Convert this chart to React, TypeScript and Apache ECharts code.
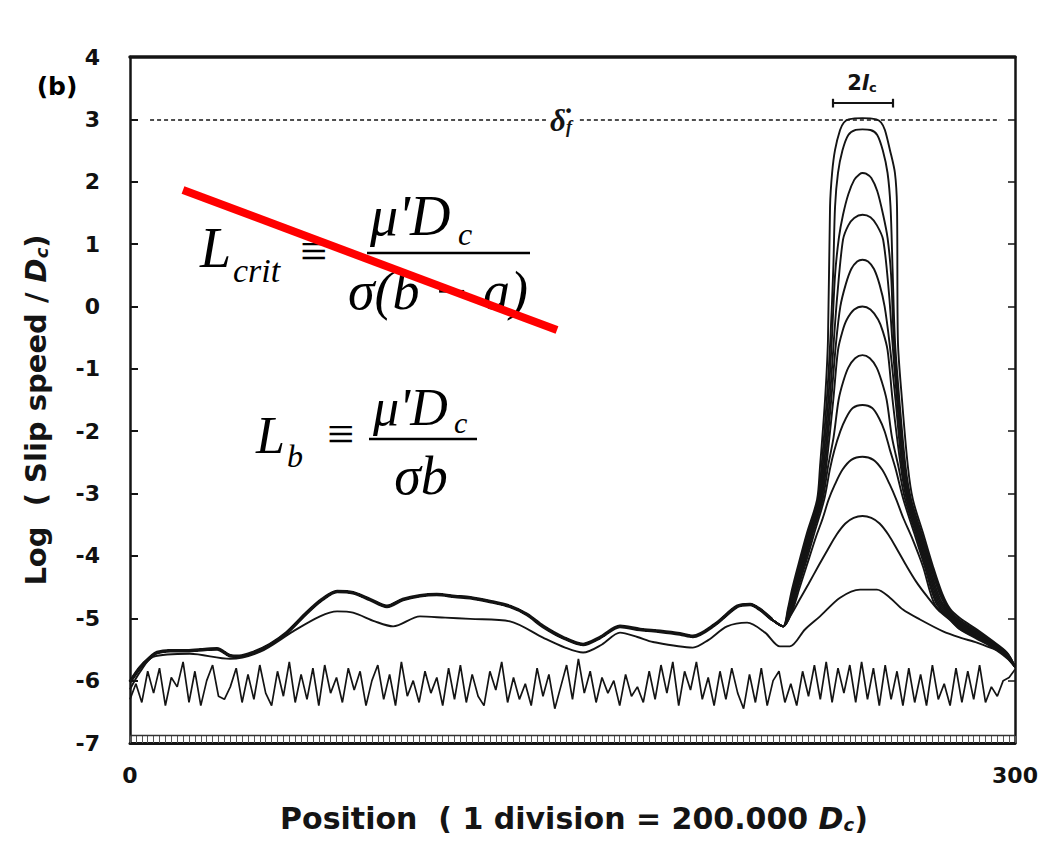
import React, { useEffect, useRef } from 'react';
import * as echarts from 'echarts';

// ---- axes ----
const positionRange = [0, 300];
const logSpeedRange = [-7, 4];
const xTickLabels = [0, 300];

// ---- common early history of the band of curves (position, log slip speed) ----
const bandLeft: number[][] = [
  [0, -6.02], [3.4, -5.79], [6.8, -5.63], [9.2, -5.55], [13.6, -5.52], [19.3, -5.52], [25.4, -5.5],
  [29.5, -5.49], [33.9, -5.6], [37, -5.61], [41.7, -5.55], [47.5, -5.42], [53.2, -5.23], [60, -4.91],
  [65.1, -4.7], [70.2, -4.57], [75.6, -4.59], [81.4, -4.7], [87.1, -4.81], [92.5, -4.7], [98.3, -4.64],
  [104, -4.62], [110.2, -4.65], [115.3, -4.67], [122, -4.73], [128.8, -4.81], [134.6, -4.94], [140, -5.13],
  [146.8, -5.31], [153.6, -5.42], [159.3, -5.31], [166.1, -5.13], [172.9, -5.18], [179.7, -5.21],
  [186.4, -5.25], [190.8, -5.29], [198.3, -5.1], [205.8, -4.81], [210.2, -4.78], [213.6, -4.86], [217.6, -5.02],
];

// ---- peak parts of the successive snapshots ----
const curveA: number[][] = [
  [221.4, -5.13], [223, -4.85], [224.4, -4.54], [226.4, -4.17], [229.5, -3.63], [232.9, -3.1], [233.9, -2.57],
  [235.6, -1.5], [236.6, -0.54], [237.3, 1.6], [238, 2.14], [239, 2.51], [240.7, 2.83], [242, 2.95], [243.6, 3.0],
  [248.3, 3.02], [253, 3.0], [254.6, 2.95], [255.9, 2.83], [257.6, 2.51], [259.3, 2.14], [260, 1.6],
  [260.3, -0.54], [261.7, -1.5], [263.7, -2.57], [265.4, -3.1], [268.8, -3.63], [272.2, -4.17], [275.3, -4.6],
  [278, -4.85], [281.4, -5.0], [287.1, -5.18], [292, -5.35], [297.3, -5.55], [300, -5.78],
];
const curveB: number[][] = [
  [221.4, -5.13], [223.2, -4.85], [224.8, -4.54], [226.8, -4.17], [229.9, -3.63], [233.2, -3.1], [234.4, -2.57],
  [236.2, -1.5], [237.4, -0.54], [238.4, 0.6], [239, 1.6], [240, 2.14], [241.5, 2.5], [243.5, 2.75], [246, 2.83],
  [248.3, 2.84], [251, 2.83], [253.3, 2.75], [255.2, 2.5], [256.8, 2.14], [257.8, 1.6], [258.5, 0.6],
  [259.3, -0.54], [260.8, -1.5], [262.9, -2.57], [264.8, -3.1], [268.3, -3.63], [271.8, -4.17], [275, -4.62],
  [278, -4.88], [281.4, -5.03], [287.1, -5.2], [292, -5.37], [297.3, -5.56], [300, -5.78],
];
const curveC: number[][] = [
  [221.4, -5.13], [223.4, -4.85], [225, -4.54], [227.1, -4.17], [230.2, -3.63], [233.5, -3.1], [234.8, -2.57],
  [236.7, -1.5], [237.9, -0.54], [239, 0.5], [240.3, 1.1], [241.7, 1.47], [243.5, 1.8], [245.5, 2.03],
  [247.3, 2.12], [248.3, 2.14], [249.5, 2.13], [251.3, 2.06], [253.3, 1.85], [255.3, 1.47], [256.8, 1.1],
  [258, 0.5], [258.9, -0.54], [260.4, -1.5], [262.5, -2.57], [264.4, -3.1], [267.9, -3.63], [271.4, -4.17],
  [274.8, -4.65], [278, -4.9], [281.4, -5.05], [287.1, -5.22], [292, -5.38], [297.3, -5.57], [300, -5.78],
];
const curveD: number[][] = [
  [221.4, -5.13], [223.6, -4.85], [225.2, -4.54], [227.4, -4.17], [230.5, -3.63], [233.8, -3.1], [235.2, -2.57],
  [237.2, -1.5], [238.6, -0.54], [239.8, 0.2], [241.7, 1.07], [243.5, 1.3], [245.5, 1.42], [248.3, 1.47],
  [251, 1.43], [253.2, 1.3], [255.3, 1.07], [257.3, 0.2], [258.4, -0.54], [260, -1.5], [262.1, -2.57],
  [264, -3.1], [267.5, -3.63], [271, -4.17], [274.5, -4.68], [278, -4.92], [281.4, -5.07], [287.1, -5.24],
  [292, -5.39], [297.3, -5.58], [300, -5.78],
];
const curveE: number[][] = [
  [221.4, -5.13], [223.8, -4.85], [225.5, -4.54], [227.7, -4.17], [230.8, -3.63], [234.1, -3.1], [235.6, -2.57],
  [237.7, -1.5], [239.3, -0.6], [240.8, 0.0], [242.6, 0.35], [244.5, 0.6], [246.5, 0.72], [248.3, 0.75],
  [250.2, 0.72], [252.2, 0.6], [254.1, 0.35], [255.8, 0.0], [257.5, -0.6], [259.5, -1.5], [261.7, -2.57],
  [263.7, -3.1], [267.1, -3.63], [270.6, -4.17], [274.2, -4.7], [278, -4.94], [281.4, -5.09], [287.1, -5.25],
  [292, -5.4], [297.3, -5.59], [300, -5.78],
];
const curveF: number[][] = [
  [221.4, -5.13], [224, -4.85], [225.8, -4.54], [228, -4.17], [231.1, -3.63], [234.4, -3.1], [236, -2.57],
  [238.4, -1.5], [240, -0.7], [241.5, -0.4], [243, -0.21], [245.5, -0.05], [248.3, 0.0], [251, -0.05],
  [253.6, -0.21], [255.2, -0.4], [256.8, -0.7], [258.5, -1.5], [261.3, -2.57], [263.3, -3.1], [266.7, -3.63],
  [270.2, -4.17], [273.9, -4.72], [278, -4.96], [281.4, -5.11], [287.1, -5.27], [292, -5.41], [297.3, -5.6],
  [300, -5.78],
];
const curveG: number[][] = [
  [221.4, -5.13], [224.2, -4.85], [226, -4.54], [228.3, -4.17], [231.5, -3.63], [234.8, -3.1], [236.6, -2.57],
  [238.5, -2.1], [240.2, -1.5], [241.8, -1.2], [243.5, -0.98], [245.8, -0.83], [248.3, -0.78], [250.8, -0.83],
  [253.1, -0.98], [254.8, -1.2], [256.5, -1.5], [258.3, -2.1], [260.5, -2.57], [262.8, -3.1], [266.3, -3.63],
  [269.8, -4.17], [273.6, -4.74], [278, -4.98], [281.4, -5.13], [287.1, -5.28], [292, -5.42], [297.3, -5.61],
  [300, -5.78],
];
const curveH: number[][] = [
  [221.4, -5.13], [224.4, -4.85], [226.3, -4.54], [228.7, -4.17], [232, -3.63], [235.3, -3.1], [237.3, -2.6],
  [238.8, -2.3], [240.8, -2.0], [242.6, -1.8], [245, -1.63], [248.3, -1.58], [251.6, -1.63], [254, -1.8],
  [255.8, -2.0], [257.6, -2.3], [259.5, -2.6], [262.2, -3.1], [265.8, -3.63], [269.4, -4.17], [273.3, -4.76],
  [278, -5.0], [281.4, -5.15], [287.1, -5.3], [292, -5.43], [297.3, -5.62], [300, -5.78],
];
const curveI: number[][] = [
  [221.4, -5.13], [224.7, -4.85], [226.8, -4.54], [229.3, -4.17], [232.5, -3.7], [234.8, -3.4], [236.8, -3.1],
  [239, -2.85], [241.5, -2.62], [244.5, -2.46], [248.3, -2.41], [252, -2.46], [255, -2.62], [257.5, -2.85],
  [259.8, -3.1], [262.2, -3.4], [265, -3.7], [268.8, -4.17], [272.8, -4.78], [278, -5.02], [281.4, -5.17],
  [287.1, -5.31], [292, -5.44], [297.3, -5.63], [300, -5.78],
];
const curveJ: number[][] = [
  [221.4, -5.13], [224, -4.95], [227, -4.7], [230, -4.45], [233.5, -4.15], [236.5, -3.9], [239.5, -3.66],
  [242.5, -3.48], [245.3, -3.39], [248.3, -3.36], [251.3, -3.39], [254.1, -3.48], [257.1, -3.66], [260.1, -3.9],
  [263.1, -4.15], [266.6, -4.42], [270.2, -4.65], [274, -4.87], [278, -5.03], [281.4, -5.18], [287.1, -5.33],
  [292, -5.46], [297.3, -5.64], [300, -5.78],
];
// earliest grown snapshot (own full path)
const curveK: number[][] = [
  [0, -6.14], [3.4, -5.86], [7.8, -5.62], [20.3, -5.57], [33.9, -5.65], [44, -5.54], [55.3, -5.21],
  [64.4, -4.97], [70.2, -4.89], [75.6, -4.91], [83, -5.05], [89.2, -5.13], [98.3, -4.97], [106.8, -4.99],
  [115.3, -5.01], [128.8, -5.05], [140, -5.31], [147.5, -5.47], [153.6, -5.55], [160, -5.42], [166.1, -5.23],
  [172, -5.3], [177.3, -5.38], [190.8, -5.47], [196, -5.35], [202.4, -5.13], [209.2, -5.07], [215.3, -5.23],
  [220.3, -5.45], [223.7, -5.45], [228.8, -5.18], [233.9, -4.97], [240.7, -4.67], [247.5, -4.54],
  [253.2, -4.54], [257.6, -4.67], [262, -4.86], [267.8, -5.02], [275.6, -5.21], [281.4, -5.31],
  [287.1, -5.39], [293.2, -5.5], [297.3, -5.58], [300, -5.78],
];

// initial heterogeneous slip speed, sampled every 2 divisions
const noiseStep = 2;
const noiseValues = [
  -6.30, -6.05, -6.35, -5.85, -6.20, -5.80, -6.40, -5.95, -6.10, -5.70,
  -6.35, -5.85, -6.40, -6.00, -5.75, -6.25, -6.30, -6.10, -5.80, -6.35,
  -5.90, -6.30, -5.75, -6.20, -6.40, -5.85, -6.25, -5.70, -6.35, -5.90,
  -6.30, -5.80, -6.40, -5.75, -6.20, -5.95, -6.35, -5.80, -6.15, -5.85,
  -6.40, -6.00, -5.75, -6.30, -5.90, -6.40, -5.70, -6.25, -6.00, -6.35,
  -5.85, -6.20, -5.95, -6.40, -5.80, -6.30, -5.75, -6.35, -5.90, -6.25,
  -6.40, -5.85, -6.15, -5.70, -6.35, -5.95, -6.30, -6.05, -6.40, -5.80,
  -6.25, -5.90, -6.45, -6.10, -5.75, -6.30, -5.65, -6.20, -5.85, -6.35,
  -5.95, -6.20, -6.00, -6.40, -5.90, -6.25, -6.10, -6.35, -5.85, -6.30,
  -5.75, -6.20, -5.70, -6.40, -5.85, -6.15, -5.70, -6.30, -5.95, -6.40,
  -5.85, -6.30, -5.80, -6.20, -6.45, -5.90, -6.35, -5.80, -6.40, -6.00,
  -5.85, -6.35, -6.05, -6.40, -5.85, -6.25, -5.75, -6.30, -5.70, -6.35,
  -5.80, -6.20, -5.75, -6.35, -5.70, -6.30, -5.80, -6.40, -5.75, -6.30,
  -5.85, -6.40, -5.80, -6.35, -5.90, -6.40, -5.75, -6.30, -6.05, -6.40,
  -5.80, -6.35, -5.85, -6.30, -5.75, -6.35, -6.10, -6.25, -6.00, -5.95,
  -5.82,
];

// annotations (data units)
const slipThreshold = 3;
const thresholdSegments = [[6.8, 141.0], [152.5, 294.9]];
const criticalSpan = [238.1, 258.4];
const criticalSpanLevel = 3.26;
const bottomRuleLevel = -6.87;

const bandCurves = [curveA, curveB, curveC, curveD, curveE, curveF, curveG, curveH, curveI, curveJ];

const INK = '#141414';
const SANS = '"DejaVu Sans", "Liberation Sans", sans-serif';
const SERIF = '"Liberation Serif", "DejaVu Serif", serif';

function txt(x: number, y: number, text: string, font: string, align = 'left', extra: any = {}) {
  return {
    type: 'text', x, y, z: 50, silent: true,
    style: { text, font, fill: '#000', align, textAlign: align, verticalAlign: 'middle', textVerticalAlign: 'middle', ...extra },
  };
}

export default function App() {
  const ref = useRef<HTMLDivElement>(null);
  useEffect(() => {
    if (!ref.current) return;
    const chart = echarts.init(ref.current, undefined, { renderer: 'svg' });
    const lineBase = { type: 'line', symbol: 'none', silent: true, xAxisIndex: 0, yAxisIndex: 0 };
    const series: any[] = [];
    series.push({
      ...lineBase, name: 'initial', data: noiseValues.map((v, i) => [i * noiseStep, v]),
      lineStyle: { color: INK, width: 1.7 }, smooth: false,
      markLine: {
        silent: true, symbol: ['none', 'none'], label: { show: false }, animation: false,
        data: [
          ...thresholdSegments.map((s) => [
            { coord: [s[0], slipThreshold], lineStyle: { type: [4, 3], width: 1.6, color: INK } },
            { coord: [s[1], slipThreshold] },
          ]),
          [{ coord: [criticalSpan[0], criticalSpanLevel], lineStyle: { type: 'solid', width: 2.2, color: INK } }, { coord: [criticalSpan[1], criticalSpanLevel] }],
          [{ coord: [criticalSpan[0], criticalSpanLevel - 0.07], lineStyle: { type: 'solid', width: 2.2, color: INK } }, { coord: [criticalSpan[0], criticalSpanLevel + 0.07] }],
          [{ coord: [criticalSpan[1], criticalSpanLevel - 0.07], lineStyle: { type: 'solid', width: 2.2, color: INK } }, { coord: [criticalSpan[1], criticalSpanLevel + 0.07] }],
          [{ coord: [positionRange[0], bottomRuleLevel], lineStyle: { type: 'solid', width: 1.3, color: '#333' } }, { coord: [positionRange[1], bottomRuleLevel] }],
        ],
      },
    });
    series.push({ ...lineBase, name: 'band', data: bandLeft, lineStyle: { color: INK, width: 3.6 }, smooth: 0.3 });
    bandCurves.forEach((c, i) => {
      series.push({ ...lineBase, name: 'c' + i, data: [...bandLeft, ...c], lineStyle: { color: INK, width: 1.9 }, smooth: 0.3 });
    });
    series.push({ ...lineBase, name: 'early', data: curveK, lineStyle: { color: INK, width: 1.9 }, smooth: 0.3 });

    const tickFont = { fontSize: 22, fontWeight: 'bold', fontFamily: SANS, color: '#111' };
    chart.setOption({
      animation: false,
      backgroundColor: '#ffffff',
      grid: { left: 130, right: 42, top: 57, bottom: 107, containLabel: false },
      xAxis: [
        {
          type: 'value', min: positionRange[0], max: positionRange[1], interval: 2, position: 'bottom',
          axisLine: { show: true, onZero: false, lineStyle: { color: INK, width: 3 } },
          axisTick: { show: true, inside: true, length: 7, lineStyle: { color: '#555', width: 1 } },
          axisLabel: { ...tickFont, margin: 21, formatter: (v: number) => (xTickLabels.includes(v) ? String(v) : '') },
          splitLine: { show: false },
        },
        {
          type: 'value', min: positionRange[0], max: positionRange[1], position: 'top',
          axisLine: { show: true, onZero: false, lineStyle: { color: INK, width: 3.5 } },
          axisTick: { show: false }, axisLabel: { show: false }, splitLine: { show: false },
        },
      ],
      yAxis: [
        {
          type: 'value', min: logSpeedRange[0], max: logSpeedRange[1], interval: 1, position: 'left',
          axisLine: { show: true, onZero: false, lineStyle: { color: INK, width: 2.5 } },
          axisTick: { show: true, inside: true, length: 8, lineStyle: { color: INK, width: 2 } },
          axisLabel: { ...tickFont, margin: 30 },
          splitLine: { show: false },
        },
        {
          type: 'value', min: logSpeedRange[0], max: logSpeedRange[1], interval: 1, position: 'right',
          axisLine: { show: true, onZero: false, lineStyle: { color: INK, width: 2.5 } },
          axisTick: { show: true, inside: true, length: 7, lineStyle: { color: INK, width: 1.5 } },
          axisLabel: { show: false }, splitLine: { show: false },
        },
      ],
      series,
      graphic: [
        txt(57, 86, '(b)', `bold 25px ${SANS}`, 'center'),
        {
          type: 'text', x: 36, y: 410, rotation: Math.PI / 2, silent: true, z: 50,
          style: {
            text: '{a|Log  ( Slip speed / }{d|D}{s|c}{a|)}', align: 'center', textAlign: 'center',
            verticalAlign: 'middle', textVerticalAlign: 'middle',
            rich: {
              a: { fontSize: 29, fontWeight: 'bold', fontFamily: SANS, fill: INK, color: INK },
              d: { fontSize: 29, fontWeight: 'bold', fontStyle: 'italic', fontFamily: SANS, fill: INK, color: INK },
              s: { fontSize: 18, fontWeight: 'bold', fontStyle: 'italic', fontFamily: SANS, fill: INK, color: INK, verticalAlign: 'bottom' },
            },
          },
        },
        {
          type: 'text', x: 574, y: 818, silent: true, z: 50,
          style: {
            text: '{a|Position  ( 1 division = 200.000 }{d|D}{s|c}{a|)}', align: 'center', textAlign: 'center',
            verticalAlign: 'middle', textVerticalAlign: 'middle',
            rich: {
              a: { fontSize: 30, fontWeight: 'bold', fontFamily: SANS, fill: INK, color: INK },
              d: { fontSize: 30, fontWeight: 'bold', fontStyle: 'italic', fontFamily: SANS, fill: INK, color: INK },
              s: { fontSize: 18, fontWeight: 'bold', fontStyle: 'italic', fontFamily: SANS, fill: INK, color: INK, verticalAlign: 'bottom' },
            },
          },
        },
        // slip speed threshold label (δ with a dot above, subscript f) as one text
        {
          type: 'text', x: 561, y: 120, silent: true, z: 50,
          style: {
            text: '{d|δ\u0307}{f|f}', align: 'center', textAlign: 'center', verticalAlign: 'middle', textVerticalAlign: 'middle',
            rich: {
              d: { fontSize: 31, fontWeight: 'bold', fontStyle: 'italic', fontFamily: SERIF, fill: INK, color: INK },
              f: { fontSize: 18, fontWeight: 'bold', fontStyle: 'italic', fontFamily: SERIF, fill: INK, color: INK, verticalAlign: 'bottom' },
            },
          },
        },
        // 2 l_c label
        {
          type: 'text', x: 862, y: 83, silent: true, z: 50,
          style: {
            text: '{n|2}{l|l}{c|c}', align: 'center', textAlign: 'center', verticalAlign: 'middle', textVerticalAlign: 'middle',
            rich: {
              n: { fontSize: 21, fontWeight: 'bold', fontFamily: SANS, fill: INK, color: INK },
              l: { fontSize: 21, fontWeight: 'bold', fontStyle: 'italic', fontFamily: SANS, fill: INK, color: INK },
              c: { fontSize: 13, fontWeight: 'bold', fontFamily: SANS, fill: INK, color: INK, verticalAlign: 'bottom' },
            },
          },
        },
        // formula 1
        txt(200, 248, 'L', `italic 56px ${SERIF}`),
        txt(233, 270, 'crit', `italic 34px ${SERIF}`),
        txt(300, 250, '≡', `48px ${SERIF}`),
        txt(370, 216, "μ'D", `italic 56px ${SERIF}`),
        txt(458, 234, 'c', `italic 32px ${SERIF}`),
        { type: 'line', z: 50, silent: true, shape: { x1: 367, y1: 253, x2: 530, y2: 253 }, style: { stroke: '#000', lineWidth: 2.5 } },
        txt(438, 291, 'σ(b − a)', `italic 54px ${SERIF}`, 'center'),
        // formula 2
        txt(256, 435, 'L', `italic 52px ${SERIF}`),
        txt(287, 456, 'b', `italic 32px ${SERIF}`),
        txt(327, 433, '≡', `48px ${SERIF}`),
        txt(373, 407, "μ'D", `italic 52px ${SERIF}`),
        txt(454, 422, 'c', `italic 30px ${SERIF}`),
        { type: 'line', z: 50, silent: true, shape: { x1: 369, y1: 439, x2: 477, y2: 439 }, style: { stroke: '#000', lineWidth: 2.5 } },
        txt(421, 476, 'σb', `italic 54px ${SERIF}`, 'center'),
        // red strike-through
        { type: 'line', z: 100, silent: true, shape: { x1: 183, y1: 190, x2: 557, y2: 330 }, style: { stroke: '#ff0000', lineWidth: 8 } },
      ],
    });
    return () => chart.dispose();
  }, []);
  return <div ref={ref} style={{ position: 'fixed', left: 0, top: 0, width: 1057, height: 850, background: '#fff' }} />;
}
